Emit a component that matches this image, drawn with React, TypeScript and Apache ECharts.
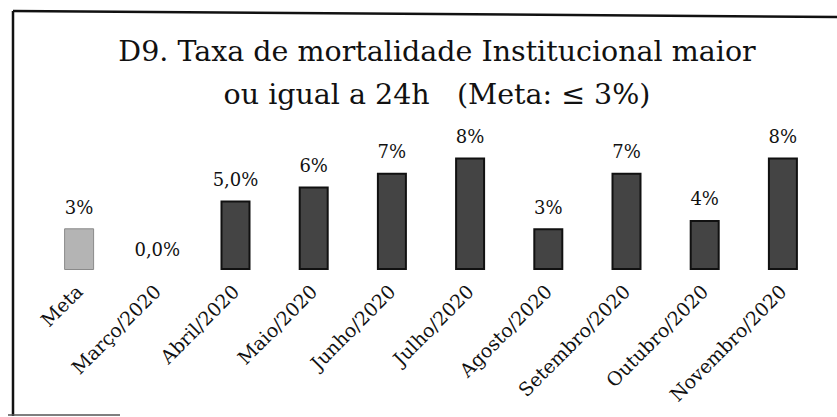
import React, { useEffect, useRef } from "react";
import * as echarts from "echarts";

const categories = [
  "Meta",
  "Março/2020",
  "Abril/2020",
  "Maio/2020",
  "Junho/2020",
  "Julho/2020",
  "Agosto/2020",
  "Setembro/2020",
  "Outubro/2020",
  "Novembro/2020",
];
const values = [3.0, 0.0, 5.0, 6.0, 7.0, 8.1, 3.0, 7.0, 3.6, 8.1];
const valueLabels = ["3%", "0,0%", "5,0%", "6%", "7%", "8%", "3%", "7%", "4%", "8%"];
const titleLines = ["D9. Taxa de mortalidade Institucional maior", "ou igual a 24h   (Meta: ≤ 3%)"];

export default function App() {
  const ref = useRef<HTMLDivElement>(null);
  useEffect(() => {
    if (!ref.current) return;
    const chart = echarts.init(ref.current, null, { renderer: "svg" });
    chart.setOption({
      animation: false,
      backgroundColor: "#ffffff",
      title: {
        text: titleLines.join("\n"),
        left: 432,
        textAlign: "center",
        top: 25,
        textStyle: {
          fontFamily: "DejaVu Serif",
          fontWeight: "normal",
          fontSize: 28.5,
          lineHeight: 43,
          color: "#111",
        },
      },
      grid: { left: 40, right: 15, top: 131, bottom: 147 },
      xAxis: {
        type: "category",
        data: categories,
        axisLine: { show: false },
        axisTick: { show: false },
        axisLabel: {
          interval: 0,
          rotate: 45,
          margin: 18,
          fontFamily: "DejaVu Serif",
          fontSize: 19,
          color: "#111",
        },
      },
      yAxis: { type: "value", min: 0, max: 10, show: false },
      series: [
        {
          type: "bar",
          barWidth: 30,
          data: values.map((v, i) => ({
            value: v,
            itemStyle:
              i === 0
                ? { color: "#b4b4b4", borderColor: "#8a8a8a", borderWidth: 1 }
                : v === 0
                ? { color: "#444", borderWidth: 0 }
                : { color: "#444444", borderColor: "#111", borderWidth: 2 },
          })),
          label: {
            show: true,
            position: "top",
            distance: 12,
            fontFamily: "DejaVu Serif",
            fontSize: 18,
            color: "#111",
            formatter: (p: any) => valueLabels[p.dataIndex],
          },
        },
      ],
      graphic: [
        { type: "line", shape: { x1: 13, y1: 11, x2: 837, y2: 17 }, style: { stroke: "#111", lineWidth: 2.5 } },
        { type: "line", shape: { x1: 13, y1: 11, x2: 13, y2: 416 }, style: { stroke: "#111", lineWidth: 2.5 } },
        { type: "line", shape: { x1: 8, y1: 415, x2: 120, y2: 415 }, style: { stroke: "#555", lineWidth: 1.5 } },
      ],
    });
    return () => chart.dispose();
  }, []);
  return (
    <div
      ref={ref}
      style={{ position: "fixed", left: 0, top: 0, width: 837, height: 417 }}
    />
  );
}
